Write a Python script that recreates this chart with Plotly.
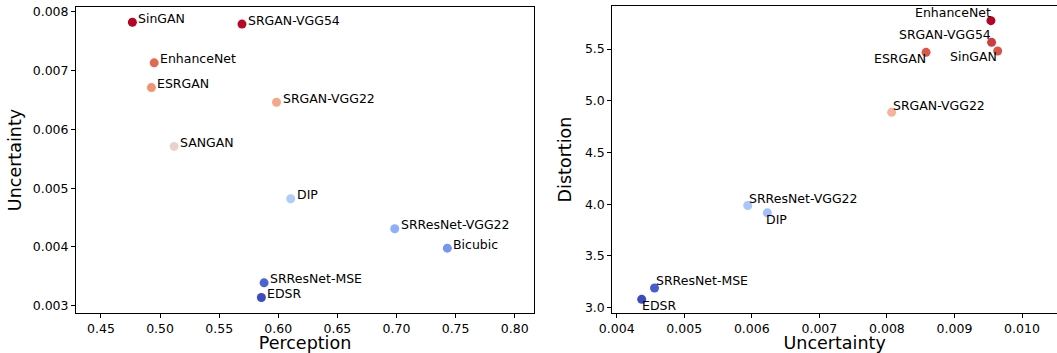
import plotly.graph_objects as go

# ---- Left panel: Perception vs Uncertainty ----
left_methods = ["SinGAN", "SRGAN-VGG54", "EnhanceNet", "ESRGAN", "SRGAN-VGG22",
                "SANGAN", "DIP", "SRResNet-VGG22", "Bicubic", "SRResNet-MSE", "EDSR"]
left_perception = [0.4766, 0.5693, 0.4950, 0.4927, 0.5985,
                   0.5119, 0.6105, 0.6985, 0.7430, 0.5880, 0.5857]
left_uncertainty = [0.00782, 0.00779, 0.00713, 0.00671, 0.00646,
                    0.00571, 0.00482, 0.00431, 0.00398, 0.00339, 0.00314]

# ---- Right panel: Uncertainty vs Distortion ----
right_methods = ["EnhanceNet", "SRGAN-VGG54", "SinGAN", "ESRGAN", "SRGAN-VGG22",
                 "SRResNet-VGG22", "DIP", "SRResNet-MSE", "EDSR"]
right_uncertainty = [0.00954, 0.00955, 0.00964, 0.00858, 0.00807,
                     0.00594, 0.00623, 0.00456, 0.00437]
right_distortion = [5.774, 5.565, 5.481, 5.468, 4.888,
                    3.987, 3.916, 3.190, 3.080]

# label placement (anchor, xshift px, yshift px) for the right panel
right_label_pos = {
    "EnhanceNet": ("right", 2, 8),
    "SRGAN-VGG54": ("right", 1, 8),
    "SinGAN": ("right", 1, -6),
    "ESRGAN": ("right", 2, -6),
    "SRGAN-VGG22": ("left", -1, 7),
    "SRResNet-VGG22": ("left", -1, 7),
    "DIP": ("left", -3, -6.5),
    "SRResNet-MSE": ("left", -1, 7.5),
    "EDSR": ("left", -2, -6),
}

coolwarm = [
    [0.0, "rgb(59,76,192)"],
    [0.125, "rgb(98,130,234)"],
    [0.25, "rgb(141,176,254)"],
    [0.375, "rgb(184,208,249)"],
    [0.5, "rgb(221,221,221)"],
    [0.625, "rgb(246,196,173)"],
    [0.75, "rgb(244,153,122)"],
    [0.875, "rgb(221,96,77)"],
    [1.0, "rgb(180,4,38)"],
]

FONT = "DejaVu Sans"
W, H = 1057, 353
ML, MT, MB = 76, 6, 353 - 312.7
PW, PH = W - ML, H - MT - MB

def dx(px):
    return (px - ML) / PW

def dy(py):
    return (H - MB - py) / PH

fig = go.Figure()
fig.add_trace(go.Scatter(
    x=left_perception, y=left_uncertainty, mode="markers",
    marker=dict(size=9, color=left_uncertainty, colorscale=coolwarm,
                cmin=min(left_uncertainty), cmax=max(left_uncertainty),
                line=dict(width=0)),
    xaxis="x", yaxis="y", showlegend=False, hoverinfo="skip"))
fig.add_trace(go.Scatter(
    x=right_uncertainty, y=right_distortion, mode="markers",
    marker=dict(size=9, color=right_distortion, colorscale=coolwarm,
                cmin=min(right_distortion), cmax=max(right_distortion),
                line=dict(width=0)),
    xaxis="x2", yaxis="y2", showlegend=False, hoverinfo="skip"))

annotations = []
for name, px, py in zip(left_methods, left_perception, left_uncertainty):
    annotations.append(dict(x=px, y=py, xref="x", yref="y", text=name,
                            showarrow=False, xanchor="left", yanchor="middle",
                            xshift=4, yshift=4,
                            font=dict(family=FONT, size=12.5, color="black")))
for name, px, py in zip(right_methods, right_uncertainty, right_distortion):
    anc, xs, ys = right_label_pos[name]
    annotations.append(dict(x=px, y=py, xref="x2", yref="y2", text=name,
                            showarrow=False, xanchor=anc, yanchor="middle",
                            xshift=xs, yshift=ys,
                            font=dict(family=FONT, size=12.5, color="black")))

axis_common = dict(showgrid=False, zeroline=False, showline=True,
                   linecolor="black", linewidth=1, ticks="outside",
                   ticklen=4, tickwidth=1, tickcolor="black", automargin=False,
                   tickfont=dict(family=FONT, size=12.5, color="black"))
title_font = dict(family=FONT, size=17.5, color="black")

fig.update_layout(
    width=W, height=H,
    margin=dict(l=ML, r=0, t=MT, b=MB, autoexpand=False),
    paper_bgcolor="white", plot_bgcolor="white",
    xaxis=dict(domain=[0, dx(534)], range=[0.4289, 0.8163],
               tickvals=[0.45, 0.50, 0.55, 0.60, 0.65, 0.70, 0.75, 0.80],
               tickformat=".2f", mirror=True, anchor="y",
               title=dict(text="Perception", standoff=6, font=title_font),
               **axis_common),
    yaxis=dict(domain=[0, dy(7)], range=[0.002877, 0.00808],
               tickvals=[0.003, 0.004, 0.005, 0.006, 0.007, 0.008],
               tickformat=".3f", mirror=True, anchor="x",
               title=dict(text="Uncertainty", standoff=6, font=title_font),
               **axis_common),
    xaxis2=dict(domain=[dx(612.3), 1.0], range=[0.003935, 0.010518],
                tickvals=[0.004, 0.005, 0.006, 0.007, 0.008, 0.009, 0.010],
                tickformat=".3f", mirror=True, anchor="y2",
                title=dict(text="Uncertainty", standoff=6, font=title_font),
                **axis_common),
    yaxis2=dict(domain=[0, 1], range=[2.948, 5.916],
                tickvals=[3.0, 3.5, 4.0, 4.5, 5.0, 5.5],
                tickformat=".1f", mirror=False, anchor="x2",
                title=dict(text="Distortion", standoff=8, font=title_font),
                **axis_common),
    annotations=annotations,
)

fig.write_html("out.html",
               config={"displayModeBar": False},
               post_script="document.body.style.margin='0';"
                           "document.body.style.overflow='hidden';")
